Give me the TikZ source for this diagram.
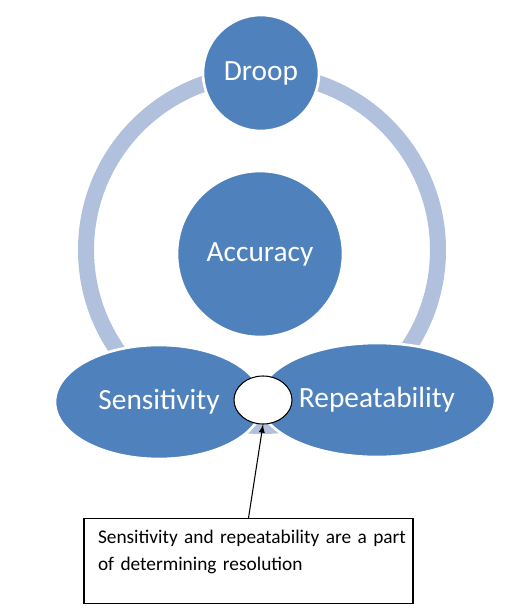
\documentclass[tikz,border=0pt]{standalone}
\usepackage{xcolor}
\usepackage{tikz}
\usepackage{fontspec}
\setmainfont{Carlito}
\usetikzlibrary{shapes.geometric}

\definecolor{officeblue}{RGB}{79,129,189}
\definecolor{ringblue}{RGB}{176,192,221}

\begin{document}
\begin{tikzpicture}
                [bubble/.style = {fill=officeblue, draw=white, line width=1.5pt, text=white,
                                  font=\fontsize{16.7}{20}\selectfont},
                 ball/.style = {bubble, circle, inner sep=0pt},
                 oval/.style = {bubble, ellipse, inner sep=0pt},
                 note/.style = {draw=black, line width=0.6pt, anchor=north, align=left,
                                text width=6.36cm, inner xsep=0.11cm, inner ysep=0pt,
                                text height=14.2pt, text depth=34pt,
                                font=\fontsize{11}{15.3}\selectfont}]

                \useasboundingbox (0,0) rectangle (10.3,-12.3);

                % the ring behind the nodes
                \draw[ringblue, line width=0.32cm] (5.24,-5.0) circle (3.52);

                \node[ball, minimum size=3.32cm] (accuracy) at (5.2,-5.08) {Accuracy};
                \node[ball, minimum size=2.32cm] (droop) at (5.22,-1.46) {Droop};
                \node[oval, minimum width=4.16cm, minimum height=2.28cm] (sensitivity) at (3.18,-8.04) {Sensitivity};
                \node[oval, minimum width=4.72cm, minimum height=2.28cm] (repeat) at (7.54,-8.0) {Repeatability};
                \node[ellipse, draw=black, fill=white, line width=0.6pt, minimum width=1.16cm, minimum height=0.96cm] (hole) at (5.26,-8.0) {};

                \node[note] (resolution) at (4.97,-10.36) {\hspace*{0.17cm}Sensitivity and repeatability are a part\\\hspace*{0.17cm}of determining resolution};

                \draw[-latex, line width=0.6pt] (resolution.north) to (hole.south);
\end{tikzpicture}
\end{document}
